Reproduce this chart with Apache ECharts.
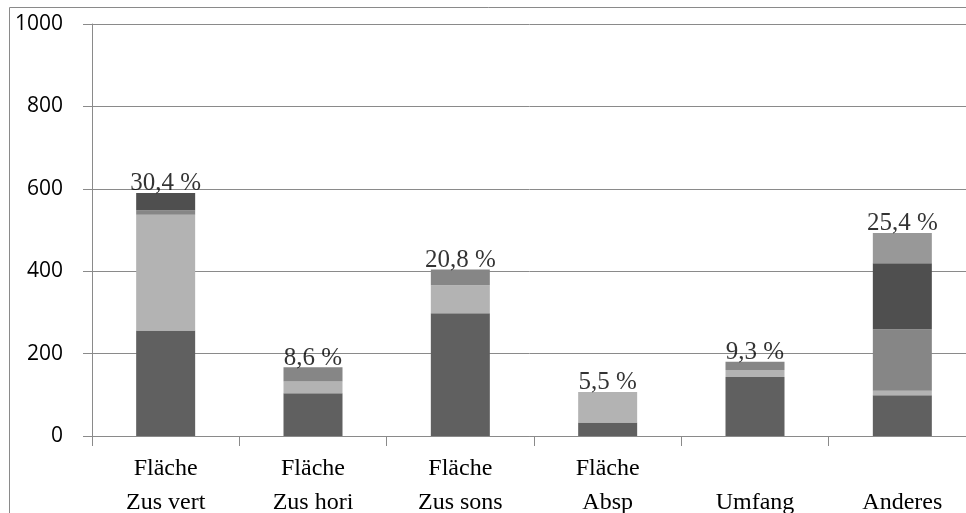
<!DOCTYPE html>
<html>
<head>
<meta charset="utf-8">
<script src="https://cdn.jsdelivr.net/npm/echarts@6/dist/echarts.min.js"></script>
<style>
  html, body { margin: 0; padding: 0; background: #ffffff; }
  #chart { width: 966px; height: 513px; }
</style>
</head>
<body>
<div id="chart"></div>
<script>
// Categories (two-line labels; single-line ones sit on the second line)
const categories = ['Fläche\nZus vert', 'Fläche\nZus hori', 'Fläche\nZus sons', 'Fläche\nAbsp', '\nUmfang', '\nAnderes'];

// Stacked segment values, bottom to top
const seriesA = [256, 104, 298, 33, 143, 99];
const seriesB = [281, 28, 68, 74, 17, 11];
const seriesC = [11, 35, 38, 0, 20, 149];
const seriesD = [42, 0, 0, 0, 0, 160];
const seriesE = [0, 0, 0, 0, 0, 74];

const yTicks = { min: 0, max: 1000, interval: 200 };

const stackData = [seriesA, seriesB, seriesC, seriesD, seriesE];
const stackColors = ['#606060', '#b3b3b3', '#868686', '#4f4f4f', '#989898'];

// Column totals and their share of the grand total
const totals = categories.map((_, i) => stackData.reduce((s, arr) => s + arr[i], 0));
const grandTotal = totals.reduce((a, b) => a + b, 0);

const serif = '"Liberation Serif", "DejaVu Serif", serif';
const gridGray = '#8a8a8a';

const barSeries = stackData.map((arr, k) => ({
  type: 'bar',
  stack: 'total',
  barWidth: 59,
  data: arr,
  itemStyle: { color: stackColors[k] },
  silent: true
}));

const shareSeries = {
  type: 'scatter',
  symbolSize: 0,
  data: totals,
  z: 10,
  silent: true,
  label: {
    show: true,
    position: 'inside',
    offset: [0, -9],
    fontFamily: serif,
    fontSize: 25,
    color: '#000000',
    formatter: p => (p.value / grandTotal * 100).toFixed(1).replace('.', ',') + ' %'
  }
};

const chart = echarts.init(document.getElementById('chart'), null, { renderer: 'canvas' });
chart.setOption({
  animation: false,
  backgroundColor: '#ffffff',
  graphic: [{
    type: 'rect',
    shape: { x: 9.5, y: 7.5, width: 1000, height: 600 },
    style: { fill: 'none', stroke: gridGray, lineWidth: 1 },
    z: -1
  }],
  grid: {
    left: 92, top: 24, width: 884, height: 412,
    containLabel: false,
    outerBoundsMode: 'none'
  },
  xAxis: {
    type: 'category',
    data: categories,
    axisLine: { show: true, lineStyle: { color: gridGray, width: 1 } },
    axisTick: { show: true, length: 10, lineStyle: { color: gridGray } },
    axisLabel: {
      margin: 16,
      fontFamily: serif,
      fontSize: 24,
      lineHeight: 34,
      color: '#000000'
    }
  },
  yAxis: {
    type: 'value',
    min: yTicks.min,
    max: yTicks.max,
    interval: yTicks.interval,
    axisLine: { show: true, lineStyle: { color: gridGray, width: 1 } },
    axisTick: { show: true, length: 9, lineStyle: { color: gridGray } },
    splitLine: { show: true, lineStyle: { color: gridGray, width: 1 } },
    axisLabel: {
      margin: 29,
      fontFamily: '"Open Sans", "Liberation Sans", sans-serif',
      fontSize: 21,
      color: '#000000',
      formatter: v => String(v)
    }
  },
  series: [...barSeries, shareSeries]
});
</script>
</body>
</html>
